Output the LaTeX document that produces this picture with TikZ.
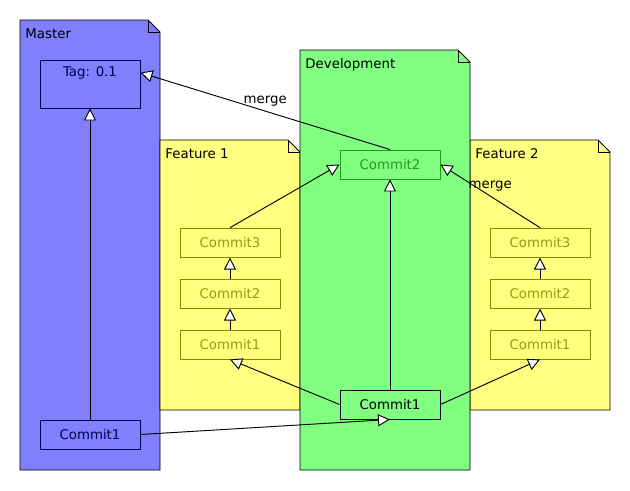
\documentclass[tikz,border=0pt]{standalone}
\usepackage{fontspec}
\setmainfont{DejaVu Sans}
\usetikzlibrary{arrows.meta, positioning, calc}

\definecolor{masterfill}{HTML}{8080FF}
\definecolor{devfill}{HTML}{80FF80}
\definecolor{featfill}{HTML}{FFFF80}
\definecolor{navy}{HTML}{000050}
\definecolor{devgreen}{HTML}{209A20}
\definecolor{olivetext}{HTML}{9A9A10}
\definecolor{oliveline}{HTML}{8A8A00}

% package box with folded corner: name, x1, y1, x2, y2, fill, label
\newcommand\umlpackage[7]{%
  \draw[fill=#6] (#2,#3) -- ({#4-12},#3) -- (#4,{#3+12}) -- (#4,#5) -- (#2,#5) -- cycle;
  \draw ({#4-12},#3) -- ({#4-12},{#3+12}) -- (#4,{#3+12});
  \node[anchor=north west] (#1) at ({#2+5},{#3+8}) {#7};
}

\begin{document}
\begin{tikzpicture}[
          x=0.75pt, y=-0.75pt,
          line width=0.7pt,
          font=\fontsize{10}{12}\selectfont,
          every node/.style={inner sep=0pt},
          commit/.style={draw, minimum width=75pt, minimum height=21.75pt},
          mastercommit/.style={commit, draw=navy, text=navy, fill=masterfill},
          featcommit/.style={commit, draw=oliveline, text=olivetext, fill=featfill},
          inherit/.style={-{Triangle[open, fill=white, length=9pt, width=9pt]}},
          node distance=15.75pt
        ]
          \useasboundingbox (0,0) rectangle (630,490);

          % packages
          \umlpackage{master}{20}{20}{160}{470}{masterfill}{Master}
          \umlpackage{feat1}{160}{140}{300}{410}{featfill}{Feature 1}
          \umlpackage{feat2}{470}{140}{610}{410}{featfill}{Feature 2}
          \umlpackage{dev}{300}{50}{470}{470}{devfill}{Development}

          % master
          \node[mastercommit, minimum height=36pt, text depth=19pt] (tag) at (90,84) {Tag: 0.1};
          \node[mastercommit] (mc1) at (90,434.5) {Commit1};

          % development
          \node[commit, fill=devfill, draw=devgreen, text=devgreen] (dc2) at (390,164.5) {Commit2};
          \node[commit, fill=devfill] (dc1) at (390,404.5) {Commit1};

          % features
          \node[featcommit] (fa1) at (230,344.5) {Commit1};
          \node[featcommit, above=of fa1] (fa2) {Commit2};
          \node[featcommit, above=of fa2] (fa3) {Commit3};
          \node[featcommit] (fb1) at (540,344.5) {Commit1};
          \node[featcommit, above=of fb1] (fb2) {Commit2};
          \node[featcommit, above=of fb2] (fb3) {Commit3};

          % history
          \draw[inherit] (mc1) -- (tag);
          \draw[inherit] (mc1.east) -- (dc1.south);
          \draw[inherit] (dc1) -- (dc2);
          \draw[inherit] (dc1.west) -- (fa1.south);
          \draw[inherit] (dc1.east) -- (fb1.south);
          \draw[inherit] (fa1) -- (fa2);
          \draw[inherit] (fa2) -- (fa3);
          \draw[inherit] (fb1) -- (fb2);
          \draw[inherit] (fb2) -- (fb3);
          \draw[inherit] (fa3.north) -- (dc2.west);
          \draw[inherit] (fb3.north) -- (dc2.east) node[midway, above=3pt] {merge};
          \draw[inherit] (dc2.north) -- (tag.mid east) node[midway, above=3pt] {merge};
        \end{tikzpicture}
\end{document}
